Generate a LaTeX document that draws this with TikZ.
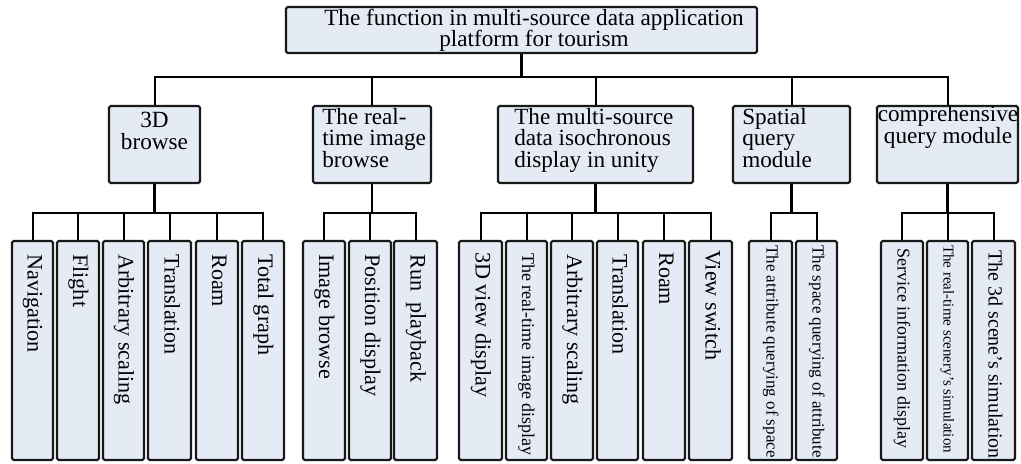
\documentclass[tikz,border=0pt]{standalone}
\usepackage{fontspec}
\setmainfont{Liberation Serif}
\usetikzlibrary{fit}
\definecolor{boxfill}{HTML}{E4EBF5}
\newcommand\bx[5]{\node[box, fit={(#2,#3)(#4,#5)}] (#1) {};}
\begin{document}
\begin{tikzpicture}[x=0.75pt,y=-0.75pt,
  box/.style={draw=black!90, line width=1.6pt, fill=boxfill, rounded corners=1.2pt, inner sep=0pt},
  conn/.style={draw=black, line width=1.5pt},
  stub/.style={draw=black, line width=2.2pt},
  lbl/.style={inner sep=0pt, font=\fontsize{17.4}{16.1}\selectfont},
  vlbl/.style={inner sep=0pt, rotate=-90, anchor=base west, font=\fontsize{16.6}{18}\selectfont},
]
\useasboundingbox (0,0) rectangle (1021,464);

% boxes
\bx{top}{286}{7}{757}{53}
\bx{b1}{109}{106}{200}{183}
\bx{b2}{313}{106}{431}{183}
\bx{b3}{498}{106}{693}{183}
\bx{b4}{733}{106}{850}{183}
\bx{b5}{877}{106}{1018}{183}

\bx{c1}{12}{241}{53}{460}
\bx{c2}{57}{241}{99}{460}
\bx{c3}{103}{241}{144}{460}
\bx{c4}{148}{241}{191}{460}
\bx{c5}{196}{241}{238}{460}
\bx{c6}{242}{241}{284}{460}
\bx{c7}{303}{241}{345}{460}
\bx{c8}{349}{241}{391}{460}
\bx{c9}{394}{241}{437}{460}
\bx{c10}{459}{241}{502}{460}
\bx{c11}{506}{241}{547}{460}
\bx{c12}{551}{241}{593}{460}
\bx{c13}{597}{241}{638}{460}
\bx{c14}{643}{241}{685}{460}
\bx{c15}{689}{241}{732}{460}
\bx{c16}{749}{241}{792}{460}
\bx{c17}{796}{241}{837}{460}
\bx{c18}{881}{241}{923}{460}
\bx{c19}{927}{241}{968}{460}
\bx{c20}{972}{241}{1015}{460}

% connectors
\draw[stub] (top.south) -- ++(0,23) coordinate (tb);
\foreach \c in {b1,b2,b3,b4,b5} \draw[conn] (tb) -| (\c.north);

\draw[stub] (b1.south) -- ++(0,29) coordinate (b1b);
\foreach \c in {c1,c2,c3,c4,c5,c6} \draw[conn] (b1b) -| (\c.north);
\draw[stub] (b2.south) -- ++(0,29) coordinate (b2b);
\foreach \c in {c7,c8,c9} \draw[conn] (b2b) -| (\c.north);
\draw[stub] (b3.south) -- ++(0,29) coordinate (b3b);
\foreach \c in {c10,c11,c12,c13,c14,c15} \draw[conn] (b3b) -| (\c.north);
\draw[stub] (b4.south) -- ++(0,29) coordinate (b4b);
\foreach \c in {c16,c17} \draw[conn] (b4b) -| (\c.north);
\draw[stub] (b5.south) -- ++(0,29) coordinate (b5b);
\foreach \c in {c18,c19,c20} \draw[conn] (b5b) -| (\c.north);

% labels
\node[lbl, anchor=north, align=center] (l0) at (534,8.5) {The function in multi-source data application\\platform for tourism};
\node[lbl, anchor=north, align=center] (l1) at (154.5,112) {3D\\browse};
\node[lbl, anchor=north west, align=left] (l2) at (322,108) {The real-\\time image\\browse};
\node[lbl, anchor=north west, align=left] (l3) at (514,108) {The multi-source\\data isochronous\\display in unity};
\node[lbl, anchor=north west, align=left] (l4) at (742,108) {Spatial\\query\\module};
\node[lbl, anchor=north, align=center] (l5) at (948,105.5) {comprehensive\\query module};

\node[vlbl] (t1) at (27.5,254) {Navigation};
\node[vlbl] (t2) at (73,254) {Flight};
\node[vlbl] (t3) at (118.5,254) {Arbitrary scaling};
\node[vlbl] (t4) at (164.5,254) {Translation};
\node[vlbl] (t5) at (212,254) {Roam};
\node[vlbl] (t6) at (258,254) {Total graph};
\node[vlbl] (t7) at (319,254) {Image browse};
\node[vlbl] (t8) at (365,254) {Position display};
\node[vlbl] (t9) at (410.5,254) {Run\ \ playback};
\node[vlbl] (t10) at (475.5,252) {3D view display};
\node[vlbl, font=\fontsize{13.5}{16}\selectfont] (t11) at (522,253) {The real-time image display};
\node[vlbl] (t12) at (567,254) {Arbitrary scaling};
\node[vlbl] (t13) at (612.5,254) {Translation};
\node[vlbl] (t14) at (659,252) {Roam};
\node[vlbl] (t15) at (705.5,250) {View switch};
\node[vlbl, font=\fontsize{12.75}{15}\selectfont] (t16) at (766.5,245) {The attribute querying of space};
\node[vlbl, font=\fontsize{12.75}{15}\selectfont] (t17) at (812.5,245) {The space querying of attribute};
\node[vlbl, font=\fontsize{13.5}{16}\selectfont] (t18) at (897.5,248) {Service information display};
\node[vlbl, font=\fontsize{11.25}{14}\selectfont] (t19) at (943.5,245) {The real-time scenery’s simulation};
\node[vlbl, font=\fontsize{15}{17}\selectfont] (t20) at (988.5,250) {The 3d scene’s simulation};
\end{tikzpicture}
\end{document}
